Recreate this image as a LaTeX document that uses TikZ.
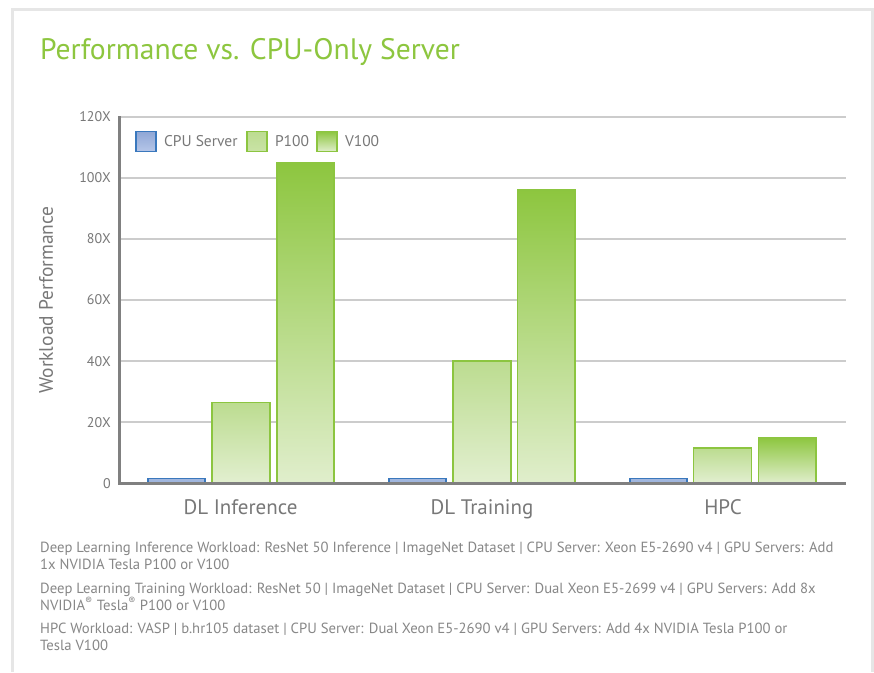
\documentclass[tikz,border=0pt]{standalone}
\usepackage{fontspec}
\setmainfont{PT Sans}
\usetikzlibrary{positioning}
\definecolor{nvgreen}{RGB}{141,198,63}
\definecolor{barline}{RGB}{140,197,64}
\definecolor{ptop}{RGB}{188,220,144}
\definecolor{pbot}{RGB}{226,239,208}
\definecolor{vbot}{RGB}{224,238,204}
\definecolor{cpuline}{RGB}{58,120,189}
\definecolor{cpufill}{RGB}{160,182,222}
\definecolor{cputop}{RGB}{143,167,214}
\definecolor{cpubot}{RGB}{182,198,232}
\definecolor{gridgray}{RGB}{204,204,204}
\definecolor{axisgray}{RGB}{128,128,128}
\definecolor{textgray}{RGB}{120,120,120}
\definecolor{notegray}{RGB}{135,135,135}
\definecolor{framegray}{RGB}{230,230,230}

\begin{document}
\begin{tikzpicture}[x=1pt,y=-1pt,
  gridline/.style={draw=gridgray,line width=1.6},
  axisline/.style={draw=axisgray},
  ticklab/.style={anchor=east,inner sep=0pt,text=textgray,font=\fontsize{14}{14}\selectfont},
  catlab/.style={anchor=base,inner sep=0pt,text=textgray,font=\fontsize{21}{21}\selectfont},
  cpubar/.style={draw=cpuline,fill=cpufill,line width=1.6},
  pbar/.style={draw=barline,top color=ptop,bottom color=pbot,line width=1.6},
  vbar/.style={draw=barline,top color=nvgreen,bottom color=vbot,line width=1.6},
  legbox/.style={minimum size=20pt,inner sep=0pt,line width=1.6},
  legtext/.style={inner sep=0pt,text=textgray,font=\fontsize{15.5}{15.5}\selectfont},
  note/.style={anchor=base west,align=left,inner sep=0pt,text=notegray,font=\fontsize{14.7}{17}\selectfont}]
\useasboundingbox (0,0) rectangle (874,672);
\fill[white] (0,0) rectangle (874,672);
\draw[framegray,line width=3.5] (12.5,672) -- (12.5,9.5) -- (872.5,9.5) -- (872.5,672);

% title
\node[anchor=base west,inner sep=0pt,text=nvgreen,font=\fontsize{29.6}{30}\selectfont] (title) at (40,59) {Performance vs. CPU-Only Server};

% grid and ticks
\foreach \v in {20,40,...,120}
  \draw[gridline] (120,{483.3-3.055*\v}) -- (846,{483.3-3.055*\v});
\foreach \v/\lab in {0/0,20/20X,40/40X,60/60X,80/80X,100/100X,120/120X}
  \node[ticklab] (tick\v) at (111,{483.3-3.055*\v}) {\lab};
\node[inner sep=0pt,rotate=90,text=textgray,font=\fontsize{19.5}{19.5}\selectfont] (ylabel) at (46,300) {Workload Performance};

% bars
\foreach \x in {148,389,630}
  \draw[cpubar] (\x,483) rectangle ({\x+57},478.5);
\foreach \x/\v in {211.7/26.4,452.7/40,693.3/11.5}
  \shadedraw[pbar] (\x,483) rectangle ({\x+58},{483.3-3.055*\v});
\foreach \x/\v in {276.7/105,517.3/96,758.3/15}
  \shadedraw[vbar] (\x,483) rectangle ({\x+57.5},{483.3-3.055*\v});

% axes
\draw[axisline,line width=3] (118,483.8) -- (846,483.8);
\draw[axisline,line width=2.5] (119.5,116) -- (119.5,485);

% categories
\node[catlab] (inference) at (240.5,514) {DL Inference};
\node[catlab] (training) at (482,514) {DL Training};
\node[catlab] (hpc) at (723,514) {HPC};

% legend
\node[legbox,draw=cpuline,top color=cputop,bottom color=cpubot] (legcpu) at (146,141.5) {};
\node[legtext,right=7pt of legcpu] (legcputext) {CPU Server};
\node[legbox,draw=barline,top color=ptop,bottom color=ptop!80!white] (legp) at (257,141.5) {};
\node[legtext,right=7pt of legp] (legptext) {P100};
\node[legbox,draw=barline,top color=nvgreen,bottom color=vbot] (legv) at (327,141.5) {};
\node[legtext,right=7pt of legv] (legvtext) {V100};

% notes
\node[note] (note1) at (40,569.5) {Deep Learning Inference Workload: ResNet 50 Inference | ImageNet Dataset | CPU Server: Xeon E5-2690 v4 | GPU Servers: Add\\1x NVIDIA Tesla P100 or V100};
\node[note] (note2) at (40,610) {Deep Learning Training Workload: ResNet 50 | ImageNet Dataset | CPU Server: Dual Xeon E5-2699 v4 | GPU Servers: Add 8x\\NVIDIA\textsuperscript{®} Tesla\textsuperscript{®} P100 or V100};
\node[note] (note3) at (40,650.5) {HPC Workload: VASP | b.hr105 dataset | CPU Server: Dual Xeon E5-2690 v4 | GPU Servers: Add 4x NVIDIA Tesla P100 or\\Tesla V100};
\end{tikzpicture}
\end{document}
